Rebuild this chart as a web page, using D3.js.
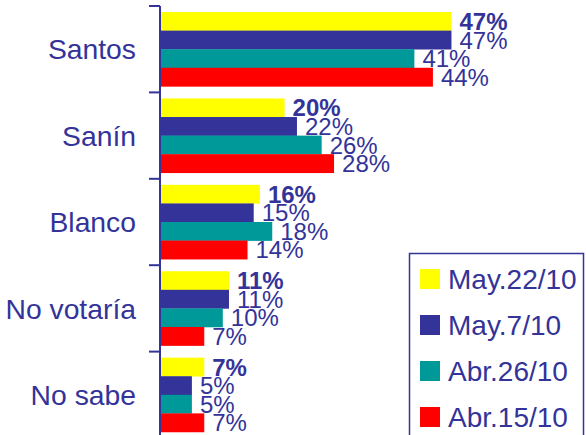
<html>
<script src="https://d3js.org/d3.v7.min.js"></script>
<style>
  body { margin: 0; background: #fff; }
  text { font-family: "Liberation Sans", Arial, sans-serif; }
</style>
<body></body>
<script>
const categories = ['Santos', 'Sanín', 'Blanco', 'No votaría', 'No sabe'];
const seriesNames = ['May.22/10', 'May.7/10', 'Abr.26/10', 'Abr.15/10'];
const colors = ['#ffff00', '#333399', '#009999', '#ff0000'];
// one array per survey date, same order as categories
const may22 = [47, 20, 16, 11, 7];
const may7 = [47, 22, 15, 11, 5];
const abr26 = [41, 26, 18, 10, 5];
const abr15 = [44, 28, 14, 7, 7];
const series = [may22, may7, abr26, abr15];

const width = 586;
const height = 435;
const ink = '#333399';

const svg = d3.select('body')
  .append('svg')
  .attr('width', width)
  .attr('height', height);

const y = d3.scaleBand()
  .domain(categories)
  .range([6, 438])
  .paddingInner(0.14)
  .paddingOuter(0.07);

const ySub = d3.scaleBand()
  .domain(d3.range(series.length))
  .range([0, y.bandwidth()]);

const x = d3.scaleLinear()
  .domain([0, 50])
  .range([161, 470]);

// bars
const groups = svg.selectAll('g.cat')
  .data(categories)
  .enter()
  .append('g')
  .attr('class', 'cat')
  .attr('transform', d => `translate(0,${y(d)})`);

groups.selectAll('rect')
  .data((d, i) => series.map((s, k) => ({k, v: s[i]})))
  .enter()
  .append('rect')
  .attr('x', x(0))
  .attr('y', d => ySub(d.k))
  .attr('width', d => x(d.v) - x(0))
  .attr('height', ySub.bandwidth() + 0.3)
  .attr('fill', d => colors[d.k]);

// axis line + ticks between categories
const step = y.step();
const bounds = categories.map(c => y(c) - step * y.paddingInner() / 2);
bounds.push(bounds[bounds.length - 1] + step);

svg.append('line')
  .attr('x1', 160).attr('x2', 160)
  .attr('y1', bounds[0]).attr('y2', bounds[bounds.length - 1])
  .attr('stroke', ink)
  .attr('stroke-width', 2);

svg.selectAll('line.tick')
  .data(bounds)
  .enter()
  .append('line')
  .attr('class', 'tick')
  .attr('x1', 149).attr('x2', 160)
  .attr('y1', d => d).attr('y2', d => d)
  .attr('stroke', ink)
  .attr('stroke-width', 2);

// category labels
svg.selectAll('text.cat')
  .data(categories)
  .enter()
  .append('text')
  .attr('class', 'cat')
  .attr('x', 136)
  .attr('y', d => y(d) + y.bandwidth() / 2)
  .attr('dy', '0.36em')
  .attr('text-anchor', 'end')
  .attr('font-size', 28.3)
  .attr('fill', ink)
  .text(d => d);

// value labels
groups.selectAll('text')
  .data((d, i) => series.map((s, k) => ({k, v: s[i]})))
  .enter()
  .append('text')
  .attr('x', d => x(d.v) + 8)
  .attr('y', d => ySub(d.k) + ySub.bandwidth() / 2)
  .attr('dy', '0.36em')
  .attr('font-size', 24)
  .attr('font-weight', d => d.k === 0 ? 'bold' : 'normal')
  .attr('fill', ink)
  .text(d => d.v + '%');

// legend
const legend = svg.append('g');
legend.append('rect')
  .attr('x', 409.5)
  .attr('y', 253.5)
  .attr('width', 174)
  .attr('height', 200)
  .attr('fill', '#fff')
  .attr('stroke', ink)
  .attr('stroke-width', 1.5);

const items = legend.selectAll('g.item')
  .data(seriesNames)
  .enter()
  .append('g')
  .attr('class', 'item')
  .attr('transform', (d, i) => `translate(420,${269 + i * 46})`);

items.append('rect')
  .attr('width', 20)
  .attr('height', 20)
  .attr('fill', (d, i) => colors[i]);

items.append('text')
  .attr('x', 28)
  .attr('y', 20)
  .attr('font-size', 28)
  .attr('fill', ink)
  .text(d => d);
</script>
</html>
